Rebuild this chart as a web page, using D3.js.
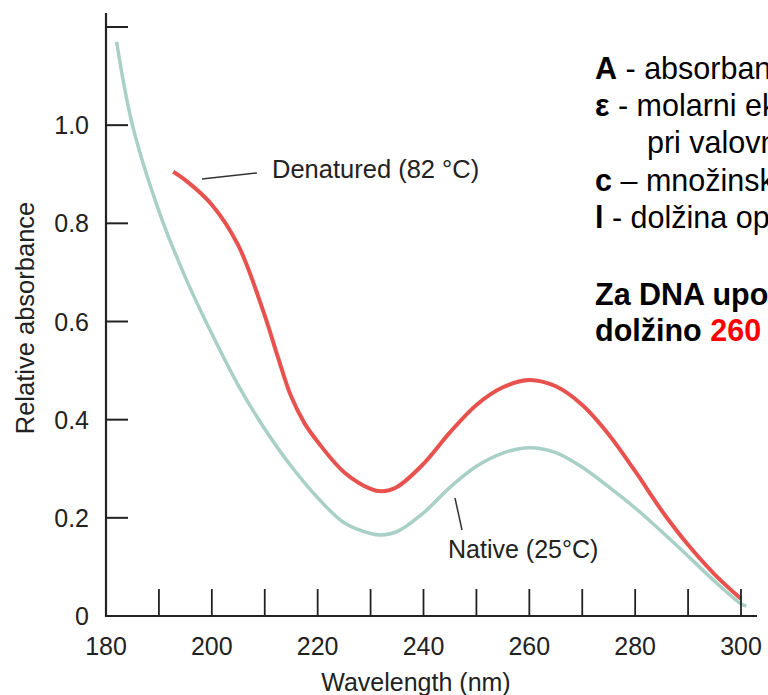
<!DOCTYPE html>
<html>
<head>
<meta charset="utf-8">
<script src="https://cdnjs.cloudflare.com/ajax/libs/d3/7.8.5/d3.min.js"></script>
<style>
    body { margin: 0; background: #fff; overflow: hidden; }
    #chart { width: 768px; height: 695px; }
    text { font-family: "Liberation Sans", Arial, sans-serif; fill: #222; }
</style>
</head>
<body>
<div id="chart"></div>
<script>
// native DNA (25 C)
var nativeWl = [182, 185, 190, 195, 200, 205, 210, 215, 220, 225, 230, 232, 235, 240, 245, 250, 255, 260, 265, 270, 275, 280, 285, 290, 295, 300, 301];
var nativeAbs = [1.17, 1.00, 0.825, 0.69, 0.575, 0.47, 0.381, 0.305, 0.241, 0.19, 0.168, 0.165, 0.172, 0.21, 0.262, 0.305, 0.332, 0.343, 0.333, 0.303, 0.263, 0.22, 0.172, 0.122, 0.071, 0.025, 0.02];

// denatured DNA (82 C)
var denatWl = [192.7, 195, 200, 205, 210, 212.5, 215, 217.5, 220, 225, 230, 232, 235, 240, 245, 250, 255, 260, 265, 270, 275, 280, 285, 290, 295, 300];
var denatAbs = [0.905, 0.888, 0.838, 0.755, 0.612, 0.527, 0.447, 0.393, 0.355, 0.293, 0.259, 0.254, 0.263, 0.31, 0.374, 0.43, 0.466, 0.481, 0.468, 0.43, 0.37, 0.295, 0.215, 0.145, 0.085, 0.035];

var xTicks = [190, 200, 210, 220, 230, 240, 250, 260, 270, 280, 290, 300];
var xLabels = [180, 200, 220, 240, 260, 280, 300];
var yTicks = [0.2, 0.4, 0.6, 0.8, 1.0, 1.2];
var yLabels = [0, 0.2, 0.4, 0.6, 0.8, 1.0];

var notes = [
    { bold: "A", rest: " - absorbanca", x: 595, y: 79 },
    { bold: "ε", rest: " - molarni ekstinkcijski koeficient", x: 595, y: 116 },
    { bold: "", rest: "pri valovni dolžini", x: 647, y: 153 },
    { bold: "c", rest: " – množinska koncentracija", x: 595, y: 191 },
    { bold: "l", rest: " - dolžina optične poti", x: 595, y: 228 }
];

var svg = d3.select("#chart")
    .append("svg")
    .attr("width", 768)
    .attr("height", 695),
    x = d3.scaleLinear().domain([180, 300]).range([106, 741]),
    y = d3.scaleLinear().domain([0, 1.2]).range([616, 27]),
    line = d3.line()
        .x(function (d) { return x(d[0]); })
        .y(function (d) { return y(d[1]); })
        .curve(d3.curveCatmullRom.alpha(0.5));

// curves
svg.append("path")
    .datum(d3.zip(nativeWl, nativeAbs))
    .attr("d", line)
    .style("fill", "none")
    .style("stroke", "#a9d0c6")
    .style("stroke-width", 3.5);

svg.append("path")
    .datum(d3.zip(denatWl, denatAbs))
    .attr("d", line)
    .style("fill", "none")
    .style("stroke", "#e8524e")
    .style("stroke-width", 4);

// axes
svg.append("line")
    .attr("x1", x(180)).attr("x2", 757)
    .attr("y1", y(0)).attr("y2", y(0))
    .style("stroke", "#222").style("stroke-width", 2);

svg.append("line")
    .attr("x1", x(180)).attr("x2", x(180))
    .attr("y1", y(0) + 1).attr("y2", 13)
    .style("stroke", "#222").style("stroke-width", 2.2);

svg.selectAll(".xtick")
    .data(xTicks)
    .enter()
    .append("line")
    .attr("x1", function (d) { return x(d); })
    .attr("x2", function (d) { return x(d); })
    .attr("y1", y(0))
    .attr("y2", y(0) - 27)
    .style("stroke", "#222").style("stroke-width", 1.8);

svg.selectAll(".ytick")
    .data(yTicks)
    .enter()
    .append("line")
    .attr("x1", x(180))
    .attr("x2", x(180) + 22)
    .attr("y1", function (d) { return y(d); })
    .attr("y2", function (d) { return y(d); })
    .style("stroke", "#222").style("stroke-width", 2);

svg.selectAll(".xlabel")
    .data(xLabels)
    .enter()
    .append("text")
    .attr("x", function (d) { return x(d); })
    .attr("y", 655)
    .attr("text-anchor", "middle")
    .style("font-size", "25px")
    .text(function (d) { return d; });

svg.selectAll(".ylabel")
    .data(yLabels)
    .enter()
    .append("text")
    .attr("x", 89)
    .attr("y", function (d) { return y(d) + 9; })
    .attr("text-anchor", "end")
    .style("font-size", "25px")
    .text(function (d) { return d === 0 ? "0" : d3.format(".1f")(d); });

svg.append("text")
    .attr("transform", "translate(34,318) rotate(-90)")
    .attr("text-anchor", "middle")
    .style("font-size", "25.5px")
    .text("Relative absorbance");

svg.append("text")
    .attr("x", 416)
    .attr("y", 691)
    .attr("text-anchor", "middle")
    .style("font-size", "25px")
    .text("Wavelength (nm)");

// curve labels
svg.append("line")
    .attr("x1", 202).attr("y1", 179).attr("x2", 257).attr("y2", 173)
    .style("stroke", "#333").style("stroke-width", 1.5);
svg.append("text")
    .attr("x", 272).attr("y", 178)
    .style("font-size", "25.5px")
    .text("Denatured (82 °C)");

svg.append("line")
    .attr("x1", 455).attr("y1", 498).attr("x2", 462).attr("y2", 530)
    .style("stroke", "#333").style("stroke-width", 1.5);
svg.append("text")
    .attr("x", 448).attr("y", 558)
    .style("font-size", "25px")
    .text("Native (25°C)");

// side notes
var noteText = svg.selectAll(".note")
    .data(notes)
    .enter()
    .append("text")
    .attr("x", function (d) { return d.x; })
    .attr("y", function (d) { return d.y; })
    .style("font-size", "30.5px")
    .style("fill", "#000");

noteText.append("tspan")
    .style("font-weight", "bold")
    .text(function (d) { return d.bold; });
noteText.append("tspan")
    .text(function (d) { return d.rest; });

svg.append("text")
    .attr("x", 595).attr("y", 305)
    .style("font-size", "30.5px").style("font-weight", "bold").style("fill", "#000")
    .text("Za DNA uporabimo valovno");

var last = svg.append("text")
    .attr("x", 595).attr("y", 341)
    .style("font-size", "30.5px").style("font-weight", "bold").style("fill", "#000");
last.append("tspan").text("dolžino ");
last.append("tspan").style("fill", "#ff0000").text("260 nm");
</script>
</body>
</html>
